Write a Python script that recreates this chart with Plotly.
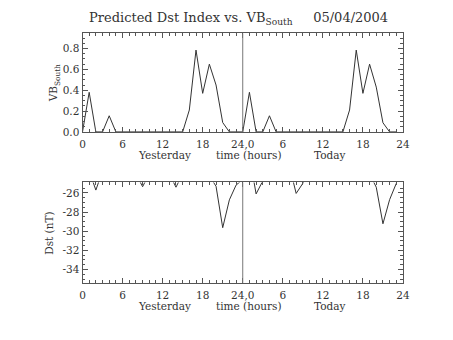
import plotly.graph_objects as go

# ---------------- data ----------------
hours_yesterday = list(range(0, 24))
hours_today = list(range(0, 24))

vb_yesterday = [0.0, 0.38, 0.0, 0.0, 0.155, 0.0, 0.0, 0.0, 0.0, 0.0, 0.0, 0.0,
                0.0, 0.0, 0.0, 0.0, 0.21, 0.785, 0.37, 0.65, 0.45, 0.09, 0.0, 0.0]
vb_today = [0.0, 0.38, 0.0, 0.0, 0.155, 0.0, 0.0, 0.0, 0.0, 0.0, 0.0, 0.0,
            0.0, 0.0, 0.0, 0.0, 0.21, 0.785, 0.37, 0.65, 0.43, 0.088, 0.0, 0.0]

dst_yesterday = [-24.0, -23.7, -25.7, -23.7, -24.0, -24.0, -24.0, -24.0, -24.0, -25.35, -24.0, -24.0,
                 -24.0, -24.0, -25.4, -24.0, -24.0, -24.0, -24.0, -24.2, -25.3, -29.63, -26.72, -25.18]
dst_today = [-24.6, -22.1, -26.1, -24.75, -24.0, -24.0, -24.0, -23.2, -26.05, -25.0, -24.0, -24.0,
             -24.0, -24.0, -24.0, -24.0, -24.0, -24.0, -24.0, -24.0, -25.4, -29.22, -26.7, -25.0]

x_tickvals = [0, 6, 12, 18, 24, 30, 36, 42, 48]
x_ticktext = ["0", "6", "12", "18", "24,0", "6", "12", "18", "24"]
vb_tickvals = [0.0, 0.2, 0.4, 0.6, 0.8]
vb_ticktext = ["0.0", "0.2", "0.4", "0.6", "0.8"]
dst_tickvals = [-26, -28, -30, -32, -34]
dst_ticktext = ["-26", "-28", "-30", "-32", "-34"]

title_text = "Predicted Dst Index vs. VB<sub>South</sub>     05/04/2004"

# ---------------- figure ----------------
W, H = 453, 340
FONT = "DejaVu Serif"
TXT = "#333333"
AX = "#555555"
LINE = "#333333"

x_all = hours_yesterday + [h + 24 for h in hours_today]
vb_all = vb_yesterday + vb_today
dst_all = dst_yesterday + dst_today

fig = go.Figure()
fig.add_trace(go.Scatter(x=x_all, y=vb_all, mode="lines",
                         line=dict(color=LINE, width=1), xaxis="x", yaxis="y",
                         showlegend=False, hoverinfo="skip"))
fig.add_trace(go.Scatter(x=x_all, y=dst_all, mode="lines",
                         line=dict(color=LINE, width=1), xaxis="x2", yaxis="y2",
                         showlegend=False, hoverinfo="skip"))

x0, x1 = 81.3 / W, 409 / W
top_dom = [1 - 134.3 / H, 1 - 34 / H]
bot_dom = [1 - 288 / H, 1 - 185.7 / H]

def xaxis(domain_anchor):
    return dict(domain=[x0, x1], anchor=domain_anchor, range=[0, 48],
                tickmode="array", tickvals=x_tickvals, ticktext=x_ticktext,
                ticks="inside", ticklen=5, tickcolor=AX, tickwidth=1,
                showline=True, linecolor=AX, linewidth=1, mirror="ticks",
                showgrid=False, zeroline=False, ticklabelstandoff=2,
                tickfont=dict(family=FONT, size=10.5, color=TXT),
                minor=dict(dtick=1, ticks="inside", ticklen=2.5, tickcolor=AX, showgrid=False))

fig.update_layout(
    width=W, height=H,
    margin=dict(l=0, r=0, t=0, b=0),
    paper_bgcolor="white", plot_bgcolor="white",
    xaxis=xaxis("y"),
    xaxis2=xaxis("y2"),
    yaxis=dict(domain=top_dom, anchor="x", range=[0, 0.945],
               tickmode="array", tickvals=vb_tickvals, ticktext=vb_ticktext,
               ticks="inside", ticklen=5, tickcolor=AX,
               showline=True, linecolor=AX, linewidth=1, mirror="ticks",
               showgrid=False, zeroline=False,
               tickfont=dict(family=FONT, size=10.5, color=TXT),
               minor=dict(dtick=0.05, ticks="inside", ticklen=2.5, tickcolor=AX, showgrid=False)),
    yaxis2=dict(domain=bot_dom, anchor="x2", range=[-35.4, -24.9],
                tickmode="array", tickvals=dst_tickvals, ticktext=dst_ticktext,
                ticks="inside", ticklen=5, tickcolor=AX,
                showline=True, linecolor=AX, linewidth=1, mirror="ticks",
                showgrid=False, zeroline=False,
                tickfont=dict(family=FONT, size=10.5, color=TXT),
                minor=dict(dtick=0.5, ticks="inside", ticklen=2.5, tickcolor=AX, showgrid=False)),
)

# vertical separators at 24h
for xr, yr in (("x", "y"), ("x2", "y2")):
    fig.add_shape(type="line", xref=xr, yref=yr + " domain", x0=24, x1=24, y0=0, y1=1,
                  line=dict(color="#777777", width=1))

def ann(text, xpx, ypx, size=10.5, angle=0):
    fig.add_annotation(text=text, x=xpx / W, y=1 - ypx / H, xref="paper", yref="paper",
                       showarrow=False, xanchor="center", yanchor="middle", textangle=angle,
                       font=dict(family=FONT, size=size, color=TXT))

ann(title_text, 241, 19, size=13)
for ypx in (158, 312):
    ann("Yesterday", 165, ypx)
    ann("time (hours)", 252, ypx)
    ann("Today", 334, ypx)
ann("VB<sub>South</sub>", 52, 85, angle=-90)
ann("Dst (nT)", 47, 237, angle=-90)

fig.write_html("out.html")
